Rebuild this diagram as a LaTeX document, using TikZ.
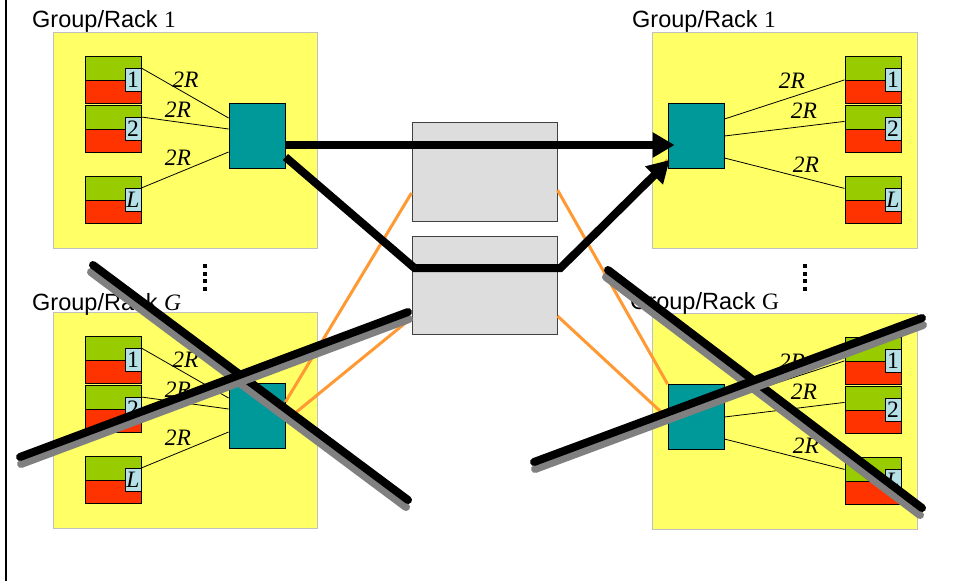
\documentclass[tikz,border=0pt]{standalone}
\usepackage{fontspec}
\setmainfont{Liberation Serif}
\newfontfamily\arialfont{Liberation Sans}
\usetikzlibrary{calc,arrows.meta}

\definecolor{grpyellow}{HTML}{FFFF66}
\definecolor{grpborder}{HTML}{C0C0C0}
\definecolor{srvgreen}{HTML}{99CC00}
\definecolor{srvred}{HTML}{FF3300}
\definecolor{tagblue}{HTML}{B4E0E6}
\definecolor{swteal}{HTML}{009999}
\definecolor{fabgray}{HTML}{DDDDDD}
\definecolor{fabborder}{HTML}{404040}
\definecolor{uporange}{HTML}{FF9933}
\definecolor{shadowgray}{HTML}{808080}

% one server: red body, green upper half, id tag on the right edge
\newcommand{\srvbox}[4]{%
  \node[srvbody, anchor=north west] (#1) at (#2,#3) {};
  \node[srvtop, anchor=north] at (#1.north) {};
  \node[tag, anchor=east] (#1t) at (#1.east) {#4};
}

\tikzset{
  grp/.style={draw=grpborder, fill=grpyellow, line width=1pt, inner sep=0pt,
    minimum width=264pt, minimum height=216pt},
  grplabel/.style={anchor=base west, inner sep=0pt,
    font=\fontsize{23.5}{26}\selectfont},
  srvbody/.style={draw=black, fill=srvred, line width=0.8pt, inner sep=0pt,
    minimum width=56pt, minimum height=47pt},
  srvtop/.style={draw=black, fill=srvgreen, line width=0.8pt, inner sep=0pt,
    minimum width=56pt, minimum height=23.5pt},
  tag/.style={draw=black, fill=tagblue, line width=0.8pt, inner sep=0pt,
    minimum width=16pt, minimum height=23pt,
    font=\fontsize{23.5}{23}\selectfont},
  switchbox/.style={draw=black, fill=swteal, line width=0.8pt, inner sep=0pt,
    minimum width=56pt, minimum height=65pt},
  fabric/.style={draw=fabborder, fill=fabgray, line width=1pt, inner sep=0pt,
    minimum width=145pt},
  link/.style={draw=black, line width=0.8pt},
  rate/.style={inner sep=0pt, font=\fontsize{23.5}{23}\selectfont\itshape},
  uplink/.style={draw=uporange, line width=3pt},
  flow/.style={draw=black, line width=8pt},
  flowtip/.style={-{Triangle[length=22pt,width=24pt]}},
  strike/.style={draw=black, line width=8pt, line cap=round},
  strikeshadow/.style={draw=shadowgray, line width=8pt, line cap=round},
  vdot/.style={fill=black, draw=none},
}

\begin{document}
\begin{tikzpicture}[x=1pt, y=-1pt]
\useasboundingbox (0,0) rectangle (957,581);

% frame edge on the left
\draw[line width=2pt] (6,0) -- (6,581);

% ---------- groups ----------
\node[grp] (tlg) at (185,140) {};
\node[grp] (blg) at (185,420) {};
\node[grp, minimum width=265pt] (trg) at (784.5,140) {};
\node[grp, minimum width=265pt] (brg) at (784.5,421) {};

\node[grplabel] (tltitle) at (32,27) {\arialfont Group/Rack \rmfamily 1};
\node[grplabel] (bltitle) at (32,310) {\arialfont Group/Rack \rmfamily\itshape G};
\node[grplabel] (trtitle) at (632,27) {\arialfont Group/Rack \rmfamily 1};
\node[grplabel] (brtitle) at (630,309) {\arialfont Group/Rack \rmfamily G};

% ---------- servers ----------
\srvbox{tl1}{84.5}{56}{1}
\srvbox{tl2}{84.5}{105}{2}
\srvbox{tlL}{84.5}{176}{\itshape L}
\srvbox{bl1}{84.5}{336}{1}
\srvbox{bl2}{84.5}{385}{2}
\srvbox{blL}{84.5}{456}{\itshape L}
\srvbox{tr1}{844.5}{56}{1}
\srvbox{tr2}{844.5}{105}{2}
\srvbox{trL}{844.5}{176}{\itshape L}
\srvbox{br1}{844.5}{337}{1}
\srvbox{br2}{844.5}{386}{2}
\srvbox{brL}{844.5}{457}{\itshape L}

% ---------- rack switches ----------
\node[switchbox] (tlsw) at (257,135.5) {};
\node[switchbox] (blsw) at (257,415.5) {};
\node[switchbox] (trsw) at (696,136) {};
\node[switchbox] (brsw) at (696,417) {};

% ---------- server links ----------
\draw[link] (tl1t.north east) -- ($(tlsw.west)+(0,-17.5)$);
\draw[link] (tl2t.north east) -- ($(tlsw.west)+(0,-6.5)$);
\draw[link] (tlLt.north east) -- ($(tlsw.west)+(0,16.5)$);
\draw[link] (bl1t.north east) -- ($(blsw.west)+(0,-17.5)$);
\draw[link] (bl2t.north east) -- ($(blsw.west)+(0,-6.5)$);
\draw[link] (blLt.north east) -- ($(blsw.west)+(0,16.5)$);
\draw[link] ($(trsw.east)+(0,-17)$) -- (tr1.west);
\draw[link] (trsw.east) -- ($(tr2.west)+(0,-7.5)$);
\draw[link] ($(trsw.east)+(0,22)$) -- ($(trL.west)+(0,-11.5)$);
\draw[link] ($(brsw.east)+(0,-17)$) -- (br1.west);
\draw[link] (brsw.east) -- ($(br2.west)+(0,-7.5)$);
\draw[link] ($(brsw.east)+(0,22)$) -- ($(brL.west)+(0,-11.5)$);

\node[rate] (tlr1) at (185.5,80) {2R};
\node[rate] (tlr2) at (178,110) {2R};
\node[rate] (tlr3) at (178,158) {2R};
\node[rate] (blr1) at (185.5,360) {2R};
\node[rate] (blr2) at (178,390) {2R};
\node[rate] (blr3) at (178,438) {2R};
\node[rate] (trr1) at (792,81) {2R};
\node[rate] (trr2) at (804,111) {2R};
\node[rate] (trr3) at (806,165) {2R};
\node[rate] (brr1) at (792,362) {2R};
\node[rate] (brr2) at (804,392) {2R};
\node[rate] (brr3) at (806,446) {2R};

% ---------- vertical ellipses ----------
\foreach \yy in {266,274,281,289} {
  \fill[vdot] (203,\yy-2) rectangle (207,\yy+2);
  \fill[vdot] (803,\yy-2) rectangle (807,\yy+2);
}

% ---------- core switches ----------
\node[fabric, minimum height=99pt] (fabA) at (484.5,171.5) {};
\node[fabric, minimum height=98pt] (fabB) at (484.5,285) {};

% ---------- traffic path corners ----------
\coordinate (bendL) at ($(fabB.west)+(3,-17)$);
\coordinate (bendR) at ($(fabB.east)+(3,-17)$);

% ---------- uplinks ----------
\draw[uplink] ($(tlsw.east)+(0,11)$) -- ($(fabA.west)+(0,-25)$);
\draw[uplink] ($(tlsw.east)+(0,21.5)$) -- (bendL);
\draw[uplink] ($(fabA.east)+(0,-25)$) -- ($(trsw.west)+(0,10)$);
\draw[uplink] (bendR) -- ($(trsw.west)+(0,24)$);
\draw[uplink] ($(fabA.west)+(0,21.5)$) -- ($(blsw.east)+(0,-13.5)$);
\draw[uplink] ($(fabB.west)+(0,33)$) -- ($(blsw.east)+(0,5.5)$);
\draw[uplink] ($(fabA.east)+(0,18.5)$) -- (brsw.north west);
\draw[uplink] ($(fabB.east)+(0,31)$) -- ($(brsw.west)+(0,1)$);

% ---------- traffic paths ----------
\draw[flow, flowtip] ($(tlsw.east)+(0,9.5)$) -- ($(trsw.west)+(7,9)$);
\draw[flow, flowtip] ($(tlsw.east)+(0,21.5)$) -- (bendL) -- (bendR)
  -- ($(trsw.west)+(2,24)$);

% ---------- failed groups struck out ----------
\coordinate (la) at (93,265);  \coordinate (lb) at (408,500);
\coordinate (lc) at (20,457);  \coordinate (ld) at (408,312);
\coordinate (ra) at (608,270); \coordinate (rb) at (922,508);
\coordinate (rc) at (534,462); \coordinate (rd) at (922,318);

\draw[strikeshadow] ($(la)+(-2,7)$) -- ($(lb)+(-2,7)$);
\draw[strike] (la) -- (lb);
\draw[strikeshadow] ($(lc)+(1,7)$) -- ($(ld)+(1,7)$);
\draw[strike] (lc) -- (ld);

\draw[strikeshadow] ($(ra)+(-2,7)$) -- ($(rb)+(-2,7)$);
\draw[strike] (ra) -- (rb);
\draw[strikeshadow] ($(rc)+(1,7)$) -- ($(rd)+(1,7)$);
\draw[strike] (rc) -- (rd);
\end{tikzpicture}
\end{document}
